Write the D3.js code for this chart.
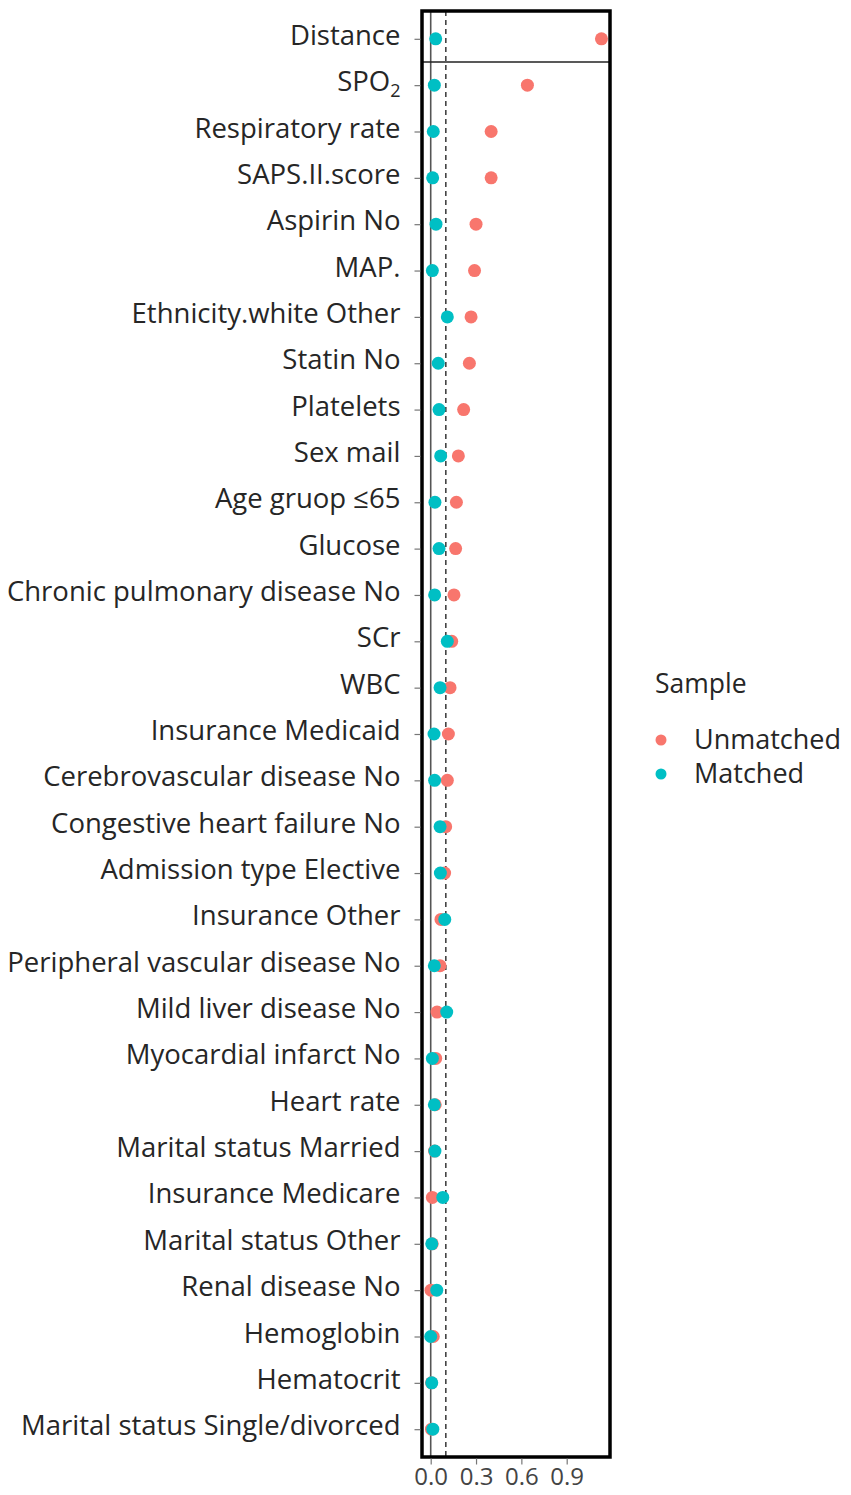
<!DOCTYPE html>
<html>
<head>
<meta charset="utf-8">
<script src="https://cdn.jsdelivr.net/npm/d3@7.9.0/dist/d3.min.js"></script>
<style>
  body { margin: 0; background: #fff; }
  svg { display: block; font-family: "Open Sans", sans-serif; }
  svg text { font-family: "Open Sans", sans-serif; }
</style>
</head>
<body>
<div id="chart"></div>
<script>
// covariates, top to bottom
const labels = [
  'Distance', 'SPO2', 'Respiratory rate', 'SAPS.II.score', 'Aspirin No', 'MAP.',
  'Ethnicity.white Other', 'Statin No', 'Platelets', 'Sex mail', 'Age gruop ≤65',
  'Glucose', 'Chronic pulmonary disease No', 'SCr', 'WBC', 'Insurance Medicaid',
  'Cerebrovascular disease No', 'Congestive heart failure No', 'Admission type Elective',
  'Insurance Other', 'Peripheral vascular disease No', 'Mild liver disease No',
  'Myocardial infarct No', 'Heart rate', 'Marital status Married', 'Insurance Medicare',
  'Marital status Other', 'Renal disease No', 'Hemoglobin', 'Hematocrit',
  'Marital status Single/divorced'
];

const unmatched = [
  1.13, 0.64, 0.40, 0.40, 0.30, 0.29, 0.267, 0.256, 0.218, 0.183, 0.17,
  0.165, 0.154, 0.139, 0.128, 0.117, 0.11, 0.099, 0.092, 0.068, 0.062,
  0.042, 0.033, 0.03, 0.025, 0.011, 0.01, 0.002, 0.017, 0.005, 0.005
];

const matched = [
  0.033, 0.024, 0.017, 0.013, 0.035, 0.011, 0.11, 0.05, 0.055, 0.066, 0.028,
  0.055, 0.026, 0.11, 0.062, 0.022, 0.026, 0.062, 0.064, 0.093, 0.024,
  0.106, 0.011, 0.024, 0.028, 0.08, 0.007, 0.04, 0.0, 0.007, 0.014
];

const xTicks = [0, 0.3, 0.6, 0.9];
const threshold = 0.1;
const groups = ['Unmatched', 'Matched'];
const colors = ['#F8766D', '#00BFC4'];

const width = 851;
const height = 1495;
const panel = { left: 422, right: 610, top: 11, bottom: 1457 };

const svg = d3.select('#chart')
  .append('svg')
  .attr('width', width)
  .attr('height', height);

const x = d3.scaleLinear()
  .domain([-0.0576, 1.1866])
  .range([panel.left, panel.right]);

const y = d3.scalePoint()
  .domain(labels)
  .range([panel.top, panel.bottom])
  .padding(0.6);

// zero line and threshold
svg.append('line')
  .attr('x1', x(0)).attr('x2', x(0))
  .attr('y1', panel.top).attr('y2', panel.bottom)
  .attr('stroke', '#555')
  .attr('stroke-width', 1.6);

svg.append('line')
  .attr('x1', x(threshold)).attr('x2', x(threshold))
  .attr('y1', panel.top).attr('y2', panel.bottom)
  .attr('stroke', '#444')
  .attr('stroke-width', 1.6)
  .attr('stroke-dasharray', '5,4');

// separator below Distance
const sepY = (y(labels[0]) + y(labels[1])) / 2;
svg.append('line')
  .attr('x1', panel.left).attr('x2', panel.right)
  .attr('y1', sepY).attr('y2', sepY)
  .attr('stroke', '#222')
  .attr('stroke-width', 1.5);

const series = [unmatched, matched];
series.forEach((vals, i) => {
  svg.append('g')
    .selectAll('circle')
    .data(labels)
    .join('circle')
    .attr('cx', (d, j) => x(vals[j]))
    .attr('cy', (d) => y(d))
    .attr('r', 6.5)
    .attr('fill', colors[i]);
});

// panel border
svg.append('rect')
  .attr('x', panel.left).attr('y', panel.top)
  .attr('width', panel.right - panel.left)
  .attr('height', panel.bottom - panel.top)
  .attr('fill', 'none')
  .attr('stroke', '#000')
  .attr('stroke-width', 3.5);

// axes
const xAxis = svg.append('g')
  .attr('transform', `translate(0, ${panel.bottom + 1.5})`)
  .call(d3.axisBottom(x).tickValues(xTicks).tickFormat(d3.format('.1f')).tickSize(6).tickPadding(3));
xAxis.attr('font-family', null).attr('font-size', null);
xAxis.select('.domain').remove();
xAxis.selectAll('line').attr('stroke', '#777').attr('stroke-width', 1.2);
xAxis.selectAll('text').attr('fill', '#444').style('font-size', '24px');

const yAxis = svg.append('g')
  .attr('transform', `translate(${panel.left - 1.5}, 0)`)
  .call(d3.axisLeft(y).tickSize(6).tickPadding(14));
yAxis.attr('font-family', null).attr('font-size', null);
yAxis.select('.domain').remove();
yAxis.selectAll('line').attr('stroke', '#777').attr('stroke-width', 1.2);
yAxis.selectAll('text')
  .attr('fill', '#262626')
  .attr('dy', '0.2em')
  .style('font-size', '27.5px');

yAxis.selectAll('.tick text')
  .filter((d) => d === 'SPO2')
  .text('SPO')
  .append('tspan')
  .attr('dy', '0.3em')
  .style('font-size', '18px')
  .text('2');

// legend
const legend = svg.append('g').attr('transform', 'translate(655, 0)');
legend.append('text')
  .attr('x', 0).attr('y', 693)
  .attr('fill', '#262626')
  .style('font-size', '26.5px')
  .text('Sample');

groups.forEach((g, i) => {
  const ly = 740 + i * 34;
  legend.append('circle')
    .attr('cx', 6).attr('cy', ly)
    .attr('r', 5.5)
    .attr('fill', colors[i]);
  legend.append('text')
    .attr('x', 39).attr('y', ly + 9)
    .attr('fill', '#262626')
    .style('font-size', '27px')
    .text(g);
});
</script>
</body>
</html>
